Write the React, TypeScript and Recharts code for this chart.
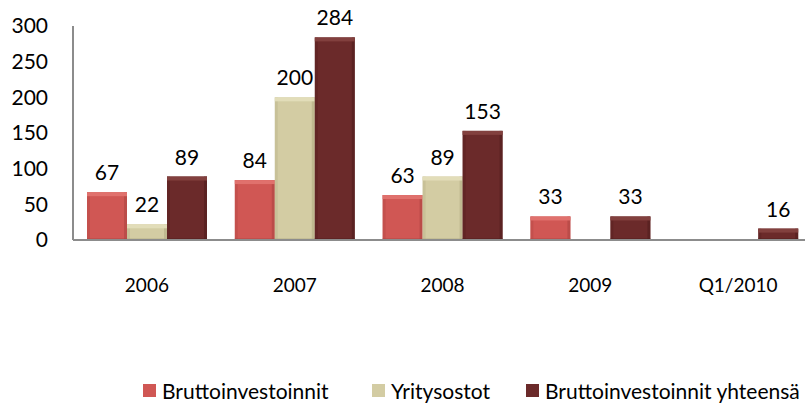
import React from "react";
import { BarChart, Bar, XAxis, YAxis, LabelList } from "recharts";

const categories = ["2006", "2007", "2008", "2009", "Q1/2010"];
const bruttoinvestoinnit: (number | null)[] = [67, 84, 63, 33, null];
const yritysostot: (number | null)[] = [22, 200, 89, null, null];
const yhteensa: (number | null)[] = [89, 284, 153, 33, 16];
const yTicks = [0, 50, 100, 150, 200, 250, 300];

const seriesNames = ["Bruttoinvestoinnit", "Yritysostot", "Bruttoinvestoinnit yhteensä"];

const data = categories.map((c, i) => ({
  name: c,
  a: bruttoinvestoinnit[i],
  b: yritysostot[i],
  c: yhteensa[i],
}));

const palettes = [
  { face: "#D05754", light: "#E0716D", dark: "#A94340" },
  { face: "#D3CCA3", light: "#E2DDB9", dark: "#B0A982" },
  { face: "#6B2A2A", light: "#82403E", dark: "#4E1C1C" },
];

const makeShape = (p: { face: string; light: string; dark: string }) => (props: any) => {
  const { x, y, width, height } = props;
  if (!height || height <= 0) return <g />;
  const bev = Math.min(4, height / 2);
  const side = 3;
  return (
    <g>
      <rect x={x} y={y} width={width} height={height} fill={p.face} />
      <rect x={x} y={y} width={side} height={height} fill={p.dark} opacity={0.3} />
      <rect x={x + width - side} y={y} width={side} height={height} fill={p.dark} opacity={0.55} />
      <rect x={x} y={y} width={width} height={bev} fill={p.light} />
      <rect x={x} y={y + height - 2} width={width} height={2} fill={p.dark} opacity={0.4} />
    </g>
  );
};

const FONT = "Lato, 'Open Sans', sans-serif";

const legendItems = [
  { left: 143, color: palettes[0].face, label: seriesNames[0] },
  { left: 372, color: palettes[1].face, label: seriesNames[1] },
  { left: 526, color: palettes[2].face, label: seriesNames[2] },
];

export default function App() {
  return (
    <div style={{ position: "absolute", left: 0, top: 0, width: 805, height: 405, overflow: "hidden", background: "#fff" }}>
      <BarChart
        width={812}
        height={405}
        data={data}
        margin={{ top: 26, right: 0, bottom: 105, left: 0 }}
        barGap={0}
        barSize={40}
      >
        <XAxis
          dataKey="name"
          axisLine={{ stroke: "#8C8C8C", strokeWidth: 2 }}
          tickLine={false}
          tick={{ fill: "#000", fontSize: 19, fontFamily: FONT }}
          tickMargin={33}
          height={60}
          interval={0}
        />
        <YAxis
          domain={[0, 300]}
          ticks={yTicks}
          width={73}
          axisLine={{ stroke: "#8C8C8C", strokeWidth: 2 }}
          tickLine={false}
          tickSize={0}
          tickMargin={25}
          tick={{ fill: "#000", fontSize: 21, fontFamily: FONT }}
          interval={0}
        />
        <Bar dataKey="a" name={seriesNames[0]} fill={palettes[0].face} shape={makeShape(palettes[0])} isAnimationActive={false}>
          <LabelList dataKey="a" position="top" offset={12} style={{ fill: "#000", fontSize: 21, fontFamily: FONT }} />
        </Bar>
        <Bar dataKey="b" name={seriesNames[1]} fill={palettes[1].face} shape={makeShape(palettes[1])} isAnimationActive={false}>
          <LabelList dataKey="b" position="top" offset={12} style={{ fill: "#000", fontSize: 21, fontFamily: FONT }} />
        </Bar>
        <Bar dataKey="c" name={seriesNames[2]} fill={palettes[2].face} shape={makeShape(palettes[2])} isAnimationActive={false}>
          <LabelList dataKey="c" position="top" offset={12} style={{ fill: "#000", fontSize: 21, fontFamily: FONT }} />
        </Bar>
      </BarChart>
      {legendItems.map((it) => (
        <div
          key={it.label}
          style={{
            position: "absolute",
            left: it.left,
            top: 376,
            height: 28,
            display: "flex",
            alignItems: "center",
            whiteSpace: "nowrap",
            fontFamily: FONT,
            fontSize: 21,
            color: "#000",
          }}
        >
          <span style={{ display: "inline-block", width: 13, height: 13, background: it.color, marginRight: 6 }} />
          <span>{it.label}</span>
        </div>
      ))}
    </div>
  );
}
